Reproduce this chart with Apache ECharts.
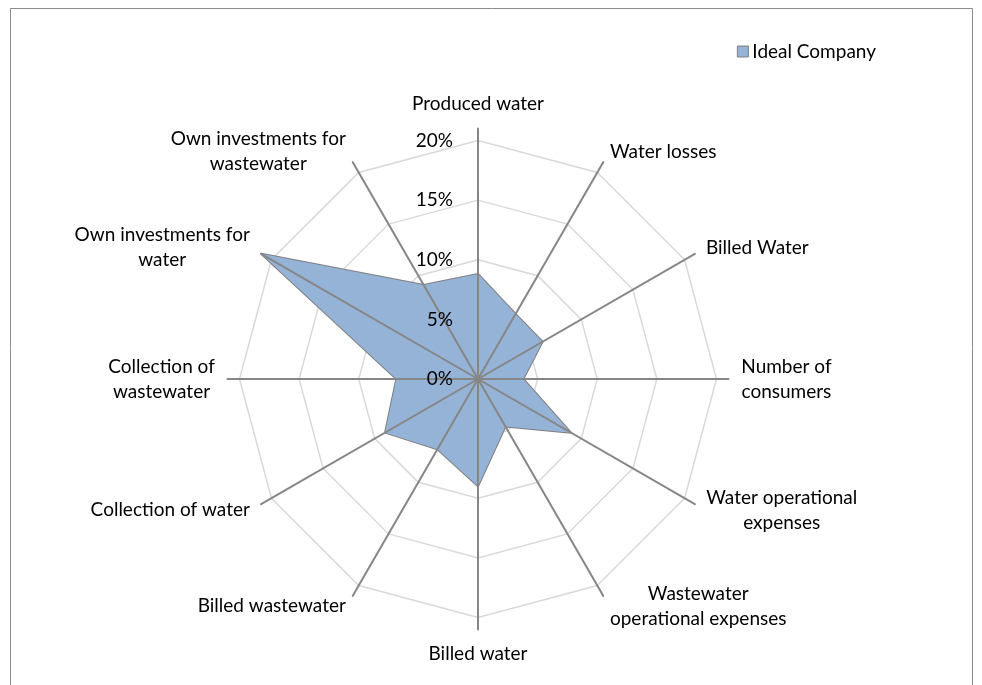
<!DOCTYPE html>
<html>
<head>
<meta charset="utf-8">
<title>Ideal Company</title>
<script src="https://cdn.jsdelivr.net/npm/echarts@6/dist/echarts.min.js"></script>
<style>
html,body{margin:0;padding:0;background:#fff;}
#chart{width:982px;height:685px;}
</style>
</head>
<body>
<div id="chart"></div>
<script>
// categories, clockwise from the top
var categories = ['Produced water', 'Water losses', 'Billed Water', 'Number of\nconsumers',
	'Water operational\nexpenses', 'Wastewater\noperational expenses', 'Billed water',
	'Billed wastewater', 'Collection of water', 'Collection of\nwastewater',
	'Own investments for\nwater', 'Own investments for\nwastewater'];
var idealCompany = [8.8, 6.3, 6.25, 3.8, 9.0, 4.6, 9.0, 6.8, 9.0, 6.85, 21.0, 9.1];
var seriesName = 'Ideal Company';
var axisMax = 20;     // outer ring
var spokeMax = 21;    // spokes run a bit past the outer ring
var tickStep = 5;

var FONT = 'Lato';
var FS = 19;
var cx = 478, cy = 379, ringRadius = 238.5;

// echarts lays radar axes counter-clockwise, so reverse all but the first
function clockwise(arr){
	var out = [arr[0]];
	for(var i=arr.length-1;i>0;i--){
		out.push(arr[i]);
	}
	return out;
}
var names = clockwise(categories);
var values = clockwise(idealCompany);

// centre each line of a multi-line name inside its own block
var ctx = document.createElement('canvas').getContext('2d');
ctx.font = FS + 'px ' + FONT;
var rich = {};
for(var i=0;i<names.length;i++){
	var lines = names[i].split('\n');
	var w = 0;
	for(var j=0;j<lines.length;j++){
		w = Math.max(w, ctx.measureText(lines[j]).width);
	}
	rich['n'+i] = {width: Math.ceil(w)+1, align:'center', fontSize:FS, fontFamily:FONT, color:'#000', lineHeight:25};
}
function nameFormatter(name){
	var idx = names.indexOf(name);
	return name.split('\n').map(function(l){ return '{n'+idx+'|'+l+'}'; }).join('\n');
}

var myChart = echarts.init(document.getElementById('chart'));
var option = {
	animation: false,
	legend: {
		data: [seriesName],
		right: 101,
		top: 37,
		icon: 'rect',
		itemWidth: 11,
		itemHeight: 11,
		itemGap: 4,
		itemStyle: {color:'#95b3d7', borderColor:'#7f7f7f', borderWidth:1},
		textStyle: {fontFamily:FONT, fontSize:FS, color:'#000', padding:[0,0,0,-1]}
	},
	graphic: [{
		type: 'rect',
		shape: {x:10.5, y:8.5, width:962, height:700},
		style: {fill:'none', stroke:'#8c8c8c', lineWidth:1},
		silent: true
	}],
	radar: [
		{ // spokes and category names
			center: [cx, cy],
			radius: ringRadius * spokeMax / axisMax,
			startAngle: 90,
			shape: 'polygon',
			z: 3,
			nameGap: 12,
			indicator: names.map(function(n){ return {name:n, min:0, max:spokeMax}; }),
			axisName: {color:'#000', fontSize:FS, fontFamily:FONT, formatter:nameFormatter, rich:rich},
			axisLine: {lineStyle:{color:'#868686', width:2}},
			axisTick: {show:false},
			axisLabel: {show:false},
			splitLine: {show:false},
			splitArea: {show:false}
		},
		{ // rings
			center: [cx, cy],
			radius: ringRadius,
			startAngle: 90,
			shape: 'polygon',
			z: 1,
			splitNumber: axisMax / tickStep,
			indicator: names.map(function(){ return {name:'', min:0, max:axisMax}; }),
			axisName: {show:false},
			axisLine: {show:false},
			axisTick: {show:false},
			axisLabel: {show:false},
			splitLine: {lineStyle:{color:'#d9d9d9', width:1.5}},
			splitArea: {show:false}
		},
		{ // percentage labels on the top axis only
			center: [cx, cy],
			radius: ringRadius,
			startAngle: 90,
			shape: 'polygon',
			z: 4,
			splitNumber: axisMax / tickStep,
			indicator: names.map(function(n,i){
				var ind = {name:'', min:0, max:axisMax};
				if(i>0){ ind.axisLabel = {show:false}; }
				return ind;
			}),
			axisName: {show:false},
			axisLine: {show:false},
			axisTick: {show:false},
			axisLabel: {show:true, formatter:'{value}%', margin:25, color:'#000', fontSize:FS, fontFamily:FONT},
			splitLine: {show:false},
			splitArea: {show:false}
		}
	],
	series: [{
		name: seriesName,
		type: 'radar',
		radarIndex: 0,
		z: 2,
		symbol: 'none',
		itemStyle: {color:'#95b3d7'},
		lineStyle: {color:'#7f7f7f', width:2},
		areaStyle: {color:'#95b3d7', opacity:1},
		data: [{name: seriesName, value: values}]
	}]
};
myChart.setOption(option);
</script>
</body>
</html>
